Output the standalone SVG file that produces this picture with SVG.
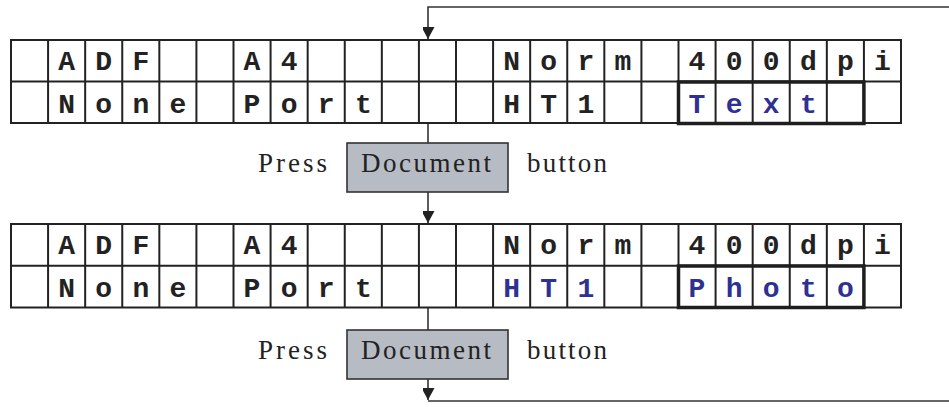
<svg xmlns="http://www.w3.org/2000/svg" width="949" height="407" viewBox="0 0 949 407">
<style>
.grid{fill:none;stroke:#222;stroke-width:2}
.sel{fill:none;stroke:#1e1e1e;stroke-width:3.5}
.lcd{font-family:"Liberation Mono","DejaVu Sans Mono",monospace;font-weight:bold;font-size:28px;fill:#222;text-anchor:middle}
.blue{fill:#2e3192}
.lbl{font-family:"Liberation Serif","Times New Roman",serif;font-size:27px;fill:#222}
.btn{fill:#b7bbc3;stroke:#333;stroke-width:1.6}
.con{fill:none;stroke:#333;stroke-width:1.6}
</style>
<defs>
<marker id="arr" markerUnits="userSpaceOnUse" markerWidth="15" markerHeight="12" refX="12" refY="6.5" orient="auto">
<path d="M0,0 L12,6.5 L0,13 z" fill="#222"/>
</marker>
</defs>

<g id="connectors">
<path class="con" d="M949,7 H428 V39" marker-end="url(#arr)"/>
<path class="con" d="M428,123 V143"/>
<path class="con" d="M428,192 V223" marker-end="url(#arr)"/>
<path class="con" d="M428,307.5 V330"/>
<path class="con" d="M428,379 V400" marker-end="url(#arr)"/>
<path class="con" d="M428,401 H949"/>
</g>

<g id="screen1">
<path class="grid" d="M11,40 H901 V123 H11 Z M11,81.5 H901 M48.08,40 V123 M85.17,40 V123 M122.25,40 V123 M159.33,40 V123 M196.42,40 V123 M233.5,40 V123 M270.58,40 V123 M307.67,40 V123 M344.75,40 V123 M381.83,40 V123 M418.92,40 V123 M456,40 V123 M493.08,40 V123 M530.17,40 V123 M567.25,40 V123 M604.33,40 V123 M641.42,40 V123 M678.5,40 V123 M715.58,40 V123 M752.67,40 V123 M789.75,40 V123 M826.83,40 V123 M863.92,40 V123"/>
<rect class="sel" x="678.5" y="82" width="185.4" height="41.5"/>
<g class="lcd">
<text x="66.6" y="70">A</text><text x="103.7" y="70">D</text><text x="140.8" y="70">F</text>
<text x="252" y="70">A</text><text x="289.1" y="70">4</text>
<text x="511.6" y="70">N</text><text x="548.7" y="70">o</text><text x="585.8" y="70">r</text><text x="622.9" y="70">m</text>
<text x="697" y="70">4</text><text x="734.1" y="70">0</text><text x="771.2" y="70">0</text><text x="808.3" y="70">d</text><text x="845.4" y="70">p</text><text x="882.5" y="70">i</text>
<text x="66.6" y="113">N</text><text x="103.7" y="113">o</text><text x="140.8" y="113">n</text><text x="177.9" y="113">e</text>
<text x="252" y="113">P</text><text x="289.1" y="113">o</text><text x="326.2" y="113">r</text><text x="363.3" y="113">t</text>
<text x="511.6" y="113">H</text><text x="548.7" y="113">T</text><text x="585.8" y="113">1</text>
<text class="blue" x="697" y="113">T</text><text class="blue" x="734.1" y="113">e</text><text class="blue" x="771.2" y="113">x</text><text class="blue" x="808.3" y="113">t</text>
</g>
</g>

<g id="button1">
<text class="lbl" x="258" y="172" textLength="69" lengthAdjust="spacing">Press</text>
<rect class="btn" x="347" y="143" width="161" height="49"/>
<text class="lbl" x="361" y="172" textLength="130" lengthAdjust="spacing">Document</text>
<text class="lbl" x="527" y="172" textLength="80" lengthAdjust="spacing">button</text>
</g>

<g id="screen2">
<path class="grid" d="M11,224 H901 V307.5 H11 Z M11,265.75 H901 M48.08,224 V307.5 M85.17,224 V307.5 M122.25,224 V307.5 M159.33,224 V307.5 M196.42,224 V307.5 M233.5,224 V307.5 M270.58,224 V307.5 M307.67,224 V307.5 M344.75,224 V307.5 M381.83,224 V307.5 M418.92,224 V307.5 M456,224 V307.5 M493.08,224 V307.5 M530.17,224 V307.5 M567.25,224 V307.5 M604.33,224 V307.5 M641.42,224 V307.5 M678.5,224 V307.5 M715.58,224 V307.5 M752.67,224 V307.5 M789.75,224 V307.5 M826.83,224 V307.5 M863.92,224 V307.5"/>
<rect class="sel" x="678.5" y="266" width="185.4" height="41.5"/>
<g class="lcd">
<text x="66.6" y="254">A</text><text x="103.7" y="254">D</text><text x="140.8" y="254">F</text>
<text x="252" y="254">A</text><text x="289.1" y="254">4</text>
<text x="511.6" y="254">N</text><text x="548.7" y="254">o</text><text x="585.8" y="254">r</text><text x="622.9" y="254">m</text>
<text x="697" y="254">4</text><text x="734.1" y="254">0</text><text x="771.2" y="254">0</text><text x="808.3" y="254">d</text><text x="845.4" y="254">p</text><text x="882.5" y="254">i</text>
<text x="66.6" y="297">N</text><text x="103.7" y="297">o</text><text x="140.8" y="297">n</text><text x="177.9" y="297">e</text>
<text x="252" y="297">P</text><text x="289.1" y="297">o</text><text x="326.2" y="297">r</text><text x="363.3" y="297">t</text>
<text class="blue" x="511.6" y="297">H</text><text class="blue" x="548.7" y="297">T</text><text class="blue" x="585.8" y="297">1</text>
<text class="blue" x="697" y="297">P</text><text class="blue" x="734.1" y="297">h</text><text class="blue" x="771.2" y="297">o</text><text class="blue" x="808.3" y="297">t</text><text class="blue" x="845.4" y="297">o</text>
</g>
</g>

<g id="button2">
<text class="lbl" x="258" y="359" textLength="69" lengthAdjust="spacing">Press</text>
<rect class="btn" x="347" y="330" width="161" height="49"/>
<text class="lbl" x="361" y="359" textLength="130" lengthAdjust="spacing">Document</text>
<text class="lbl" x="527" y="359" textLength="80" lengthAdjust="spacing">button</text>
</g>
</svg>
